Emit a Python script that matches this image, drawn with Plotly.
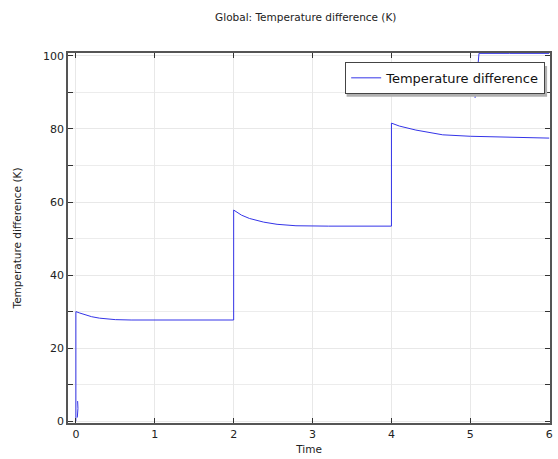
import plotly.graph_objects as go

# Main curve (time, temperature difference)
t_main = [0, 0.0, 0.05, 0.1, 0.2, 0.3, 0.4, 0.5, 0.7, 1.0, 1.5, 2.0,
          2.0, 2.1, 2.2, 2.38, 2.55, 2.79, 3.2, 3.6, 4.0,
          4.0, 4.1, 4.31, 4.5, 4.65, 5.0, 5.3, 5.62, 6.0]
v_main = [0, 30.0, 29.6, 29.2, 28.6, 28.2, 27.9, 27.8, 27.7, 27.7, 27.7, 27.7,
          57.8, 56.4, 55.5, 54.5, 53.9, 53.5, 53.4, 53.4, 53.4,
          81.6, 80.8, 79.7, 78.9, 78.4, 78.0, 77.9, 77.7, 77.5]

# Small transient near t=0
t_start = [0.018, 0.026, 0.022]
v_start = [1.0, 3.5, 5.5]

# Segment near t=5 running off the top
t_top = [5.06, 5.11, 5.5, 6.0]
v_top = [88.5, 100.7, 100.7, 100.7]

t_all = t_main + [None] + t_start + [None] + t_top
v_all = v_main + [None] + v_start + [None] + v_top

font = "DejaVu Sans, Arial, sans-serif"

fig = go.Figure()
fig.add_trace(go.Scatter(
    x=t_all, y=v_all, mode="lines", name="Temperature difference",
    line=dict(color="#3434e8", width=1), connectgaps=False,
    showlegend=True, cliponaxis=True))

fig.update_layout(
    width=558, height=459,
    margin=dict(l=68, r=5, t=53, b=34),
    paper_bgcolor="white", plot_bgcolor="white",
    title=dict(text="Global: Temperature difference (K)", x=0.548, xanchor="center",
               y=1 - 17 / 459, yanchor="middle",
               font=dict(family=font, size=10.5, color="#222")),
    showlegend=True,
    legend=dict(x=0.99, y=0.976, xanchor="right", yanchor="top",
                bgcolor="white", bordercolor="#444", borderwidth=1,
                font=dict(family=font, size=13, color="#111")),
    font=dict(family=font, size=11, color="#222"),
    shapes=[dict(type="rect", xref="paper", yref="paper",
                 x0=0.578, x1=0.994, y0=0.882, y1=0.965,
                 line=dict(width=0), fillcolor="#b0b0b0", layer="above")],
)

fig.update_xaxes(
    range=[-0.1, 6.01], dtick=1, tick0=0,
    showgrid=True, gridcolor="#e8e8e8", gridwidth=1,
    zeroline=False, showline=True, linecolor="#555", linewidth=1.5,
    mirror="ticks", ticks="inside", ticklen=5, tickcolor="#333",
    tickfont=dict(family=font, size=11, color="#222"),
    title=dict(text="Time", font=dict(family=font, size=10.5, color="#222"), standoff=6),
)
fig.update_yaxes(
    range=[-0.5, 100.8], dtick=20, tick0=0,
    showgrid=True, gridcolor="#e8e8e8", gridwidth=1,
    zeroline=False, showline=True, linecolor="#555", linewidth=1.5,
    mirror="ticks", ticks="inside", ticklen=5, tickcolor="#333",
    minor=dict(dtick=10, ticks="inside", ticklen=5, tickcolor="#333",
               showgrid=True, gridcolor="#ececec"),
    tickfont=dict(family=font, size=11, color="#222"),
    title=dict(text="Temperature difference (K)", font=dict(family=font, size=10.5, color="#222"), standoff=19),
)

fig.write_html("out.html", post_script="document.body.style.margin='0';",
               config={"displayModeBar": False})
